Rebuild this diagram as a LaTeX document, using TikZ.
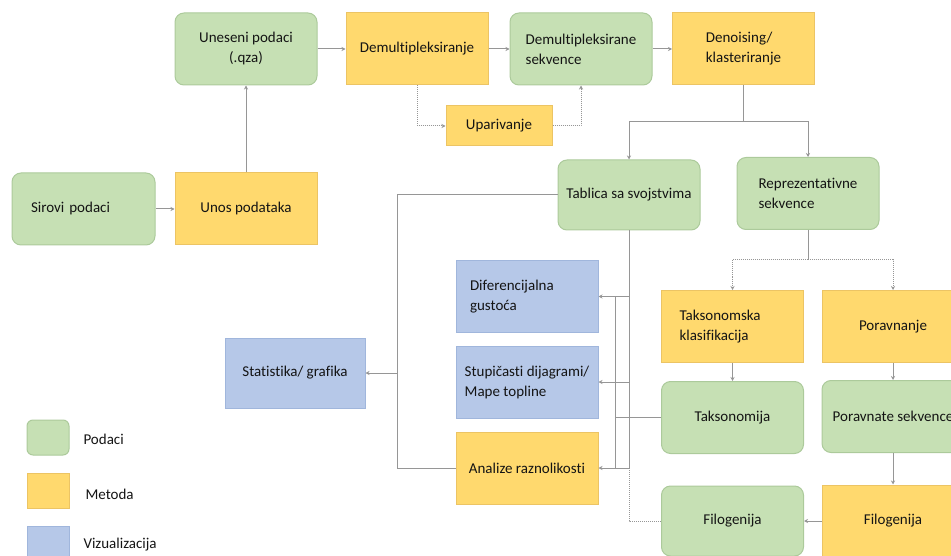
\documentclass[tikz,border=0pt]{standalone}
\usepackage{fontspec}
\setmainfont{Carlito}[Ligatures=NoCommon]
\usetikzlibrary{arrows.meta}
\definecolor{zelena}{RGB}{198,224,180}
\definecolor{zelenarub}{RGB}{172,202,155}
\definecolor{zuta}{RGB}{255,217,110}
\definecolor{zutarub}{RGB}{236,196,100}
\definecolor{plava}{RGB}{182,200,232}
\definecolor{plavarub}{RGB}{160,182,220}
\definecolor{linija}{RGB}{150,150,150}
\definecolor{tekst}{RGB}{20,20,20}
\begin{document}
\begin{tikzpicture}[x=1pt,y=-1pt,
    kutija/.style={line width=1pt, minimum width=142pt, minimum height=72pt, inner sep=0pt,
      align=center, text=tekst, font=\fontsize{15}{20}\selectfont},
    podaci/.style={kutija, rounded corners=9pt, fill=zelena, draw=zelenarub},
    metoda/.style={kutija, fill=zuta, draw=zutarub},
    vizual/.style={kutija, fill=plava, draw=plavarub},
    oznaka/.style={anchor=west, text=tekst, font=\fontsize{15}{20}\selectfont},
    veza/.style={draw=linija, line width=1pt},
    vrh/.style={-{Stealth[length=4pt,width=4pt]}},
    strel/.style={veza, vrh},
    tocke/.style={veza, dash pattern=on 1pt off 1pt},
    tstrel/.style={tocke, vrh}]
  \path[use as bounding box] (0,0) rectangle (951,556);
  \clip (0,0) rectangle (951,556);

  \node[podaci] (unes) at (246,49) {Uneseni podaci\\(.qza)};
  \node[metoda] (demux) at (417,49) {Demultipleksiranje};
  \node[metoda, minimum width=106pt, minimum height=40pt] (upar) at (499,126) {Uparivanje};
  \node[podaci, minimum width=143pt, text width=105pt, align=left] (sirovi) at (83.5,209) {Sirovi podaci};
  \node[metoda] (unos) at (246,209) {Unos podataka};
  \node[podaci, align=left] (demuxseq) at (581,49) {Demultipleksirane\\sekvence};
  \node[metoda, align=left] (denois) at (743.5,49) {Denoising/\\klasteriranje};
  \node[podaci, minimum height=70pt] (tablica) at (629,195) {Tablica sa svojstvima};
  \node[podaci, align=left] (repr) at (808,193.5) {Reprezentativne\\sekvence};
  \node[vizual, minimum width=140pt, minimum height=70pt] (statist) at (295,373) {Statistika/ grafika};
  \node[vizual, text width=114pt, align=left] (difer) at (527,296.5) {Diferencijalna\\gustoća};
  \node[vizual, align=left] (stup) at (527,382) {Stupičasti dijagrami/\\Mape topline};
  \node[metoda] (anal) at (527,468) {Analize raznolikosti};
  \node[metoda, text width=106pt, align=left] (taksk) at (732.5,326.5) {Taksonomska\\klasifikacija};
  \node[metoda] (porav) at (893,326.5) {Poravnanje};
  \node[podaci] (taks) at (732.5,417.5) {Taksonomija};
  \node[podaci] (poravseq) at (893,416.5) {Poravnate sekvence};
  \node[podaci, minimum height=70pt] (filog) at (732.5,521) {Filogenija};
  \node[metoda] (filom) at (893,521) {Filogenija};

  % legenda
  \node[podaci, minimum width=42pt, minimum height=35pt, rounded corners=6pt] (legpod) at (48,437.5) {};
  \node[metoda, minimum width=42pt, minimum height=35pt] (legmet) at (48,490.5) {};
  \node[vizual, minimum width=42pt, minimum height=35pt] (legviz) at (48,543.5) {};
  \node[oznaka] (txtpod) at (80,439) {Podaci};
  \node[oznaka] (txtmet) at (82,494) {Metoda};
  \node[oznaka] (txtviz) at (80,545) {Vizualizacija};

  \draw[strel] (sirovi) -- (unos);
  \draw[strel] (unos) -- (unes);
  \draw[strel] (unes) -- (demux);
  \draw[strel] (demux) -- (demuxseq);
  \draw[strel] (demuxseq) -- (denois);
  \draw[tstrel] (demux.south) |- (upar.west);
  \draw[tstrel] (upar.east) -| (demuxseq.south);

  \draw[veza] (denois.south) -- ++(0,36) coordinate (rac1);
  \draw[strel] (rac1) -| (tablica.north);
  \draw[strel] (rac1) -| (repr.north);

  \coordinate (sab) at (397,373);
  \draw[veza] (tablica.west) -| (sab);
  \draw[veza] (anal.west) -| (sab);
  \draw[strel] (sab) -- (statist.east);

  \draw[veza] (tablica.south) -- (tablica.south |- anal.east);
  \foreach \k in {difer,stup,anal}
    \draw[strel] (tablica.south |- \k.east) -- (\k.east);
  \draw[veza] (taks.west) -- ++(-46,0) coordinate (tsab);
  \draw[veza] (tsab |- difer.east) -- (tsab |- anal.east);
  \draw[tocke] (tablica.south |- anal.east) |- (filog.west);

  \draw[veza] (repr.south) -- ++(0,30) coordinate (rac2);
  \draw[tstrel] (rac2) -| (taksk.north);
  \draw[tstrel] (rac2) -| (porav.north);
  \draw[strel] (taksk) -- (taks);
  \draw[strel] (porav) -- (poravseq);
  \draw[strel] (poravseq) -- (filom);
  \draw[strel] (filom) -- (filog);
\end{tikzpicture}
\end{document}
